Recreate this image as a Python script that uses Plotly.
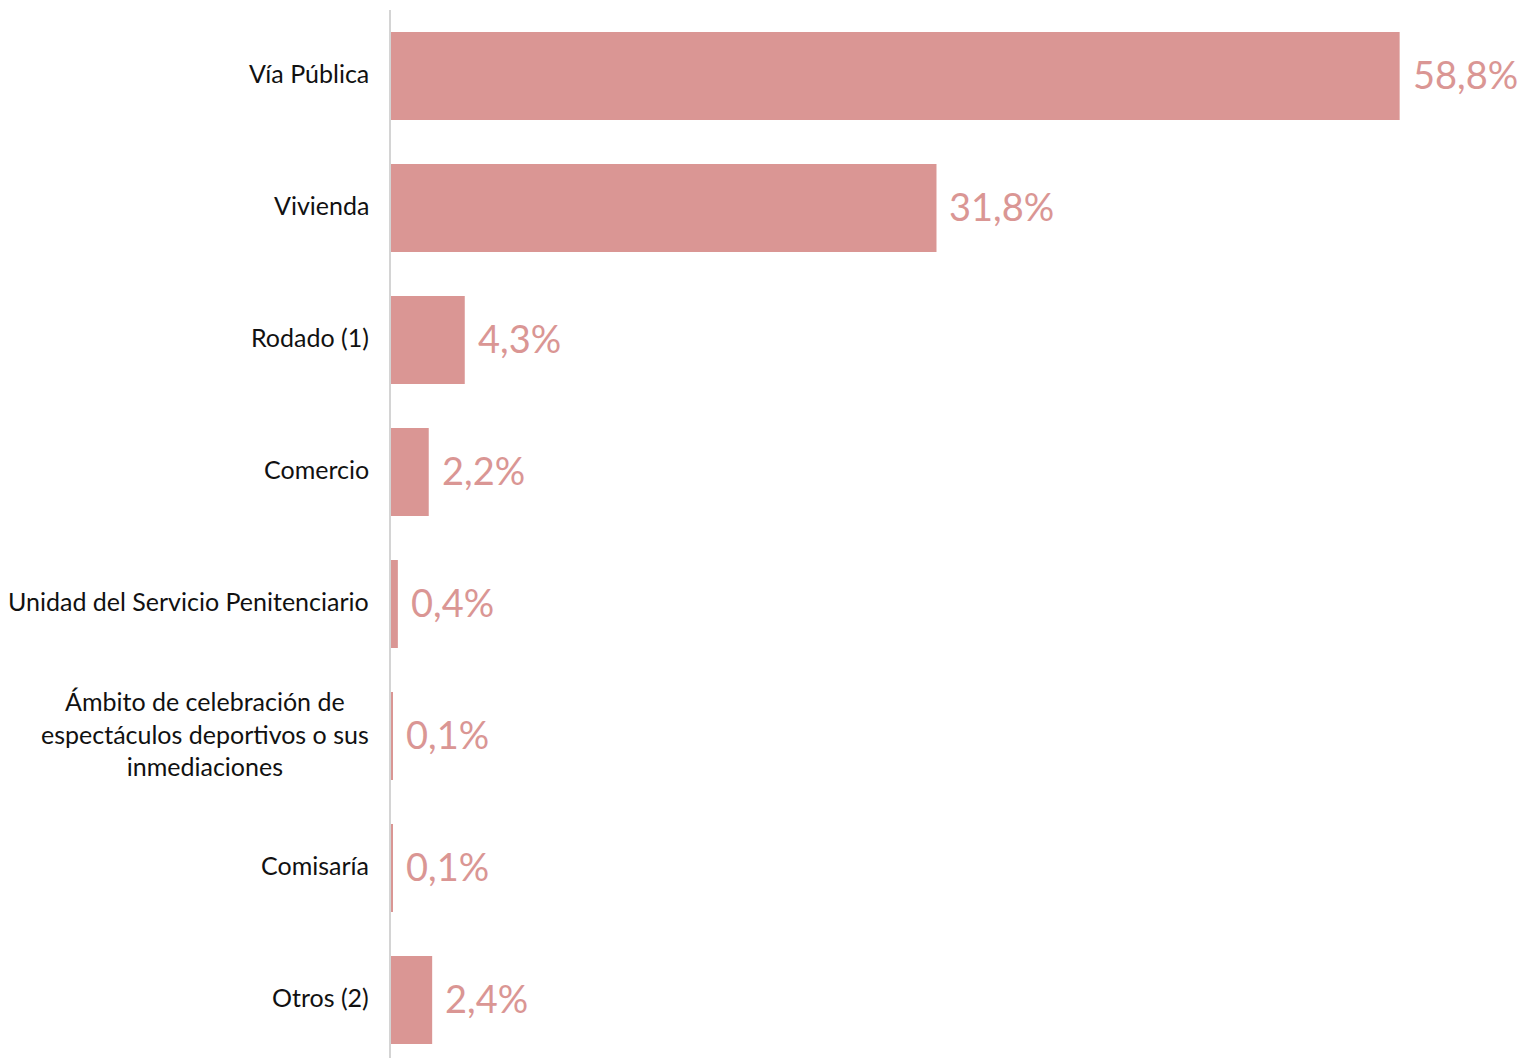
import plotly.graph_objects as go

categories = [
    "Vía Pública",
    "Vivienda",
    "Rodado (1)",
    "Comercio",
    "Unidad del Servicio Penitenciario",
    "Ámbito de celebración de<br>espectáculos deportivos o sus<br>inmediaciones",
    "Comisaría",
    "Otros (2)",
]
values = [58.8, 31.8, 4.3, 2.2, 0.4, 0.1, 0.1, 2.4]
value_labels = ["58,8%", "31,8%", "4,3%", "2,2%", "0,4%", "0,1%", "0,1%", "2,4%"]

bar_color = "#DA9694"

fig = go.Figure(
    go.Bar(
        x=values,
        y=categories,
        orientation="h",
        marker=dict(color=bar_color, line=dict(width=0)),
        hoverinfo="skip",
    )
)

annotations = []
for cat, val, lab in zip(categories, values, value_labels):
    annotations.append(dict(
        x=val, y=cat, xref="x", yref="y", text=lab, showarrow=False,
        xanchor="left", yanchor="middle", xshift=11, yshift=2,
        font=dict(family="Lato, sans-serif", size=38, color=bar_color),
    ))
    annotations.append(dict(
        x=0, y=cat, xref="x", yref="y", text=cat, showarrow=False,
        xanchor="right", yanchor="middle", xshift=-20, yshift=3, align="center",
        font=dict(family="Lato, sans-serif", size=25, color="#111111"),
    ))

fig.update_layout(
    width=1529,
    height=1058,
    margin=dict(l=383, r=31, t=2, b=0),
    paper_bgcolor="white",
    plot_bgcolor="white",
    bargap=0.333,
    showlegend=False,
    annotations=annotations,
    xaxis=dict(range=[0, 65], visible=False, fixedrange=True),
    yaxis=dict(
        type="category",
        categoryorder="array",
        categoryarray=categories,
        range=[7.5, -0.5],
        showticklabels=False,
        ticks="",
        showgrid=False,
        zeroline=False,
        showline=True,
        linecolor="#d4d4d4",
        linewidth=2,
        fixedrange=True,
    ),
)

fig.write_html("out.html")
